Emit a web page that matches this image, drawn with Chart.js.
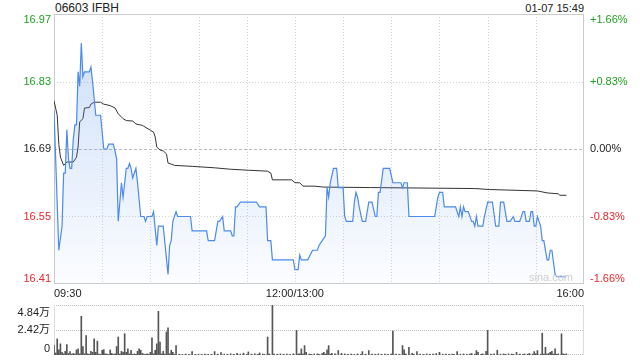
<!DOCTYPE html>
<html>
<head>
<meta charset="utf-8">
<script src="https://cdn.jsdelivr.net/npm/chart.js@4/dist/chart.umd.min.js"></script>
<style>
  body { margin: 0; background: #fff; }
  #wrap { position: relative; width: 640px; height: 360px; font-family: Arial, "Liberation Sans", sans-serif; color: #222; }
  #title { position: absolute; left: 55px; top: 1px; font-size: 12px; }
  #stamp { position: absolute; right: 56px; top: 2px; font-size: 11px; }
  canvas { position: absolute; left: 0; }
</style>
</head>
<body>
<div id="wrap">
  <div id="title">06603 IFBH</div>
  <div id="stamp">01-07 15:49</div>
  <canvas id="priceChart" width="640" height="300" style="top:0"></canvas>
  <canvas id="volChart" width="640" height="60" style="top:300px"></canvas>
</div>
<script>
// minutes since 09:30 (lunch break removed, 150 = 12:00/13:00)
const priceMin = [0, 3, 5, 6, 7, 8, 9, 10, 11, 12, 13, 14, 15, 16, 17, 18, 19, 22, 23, 24, 26, 29, 31, 33, 34, 37, 39, 40,
  42, 43, 45, 46, 47, 48, 49, 51, 52, 54, 56, 57, 58, 61, 62, 64, 65, 68, 71, 72, 73, 74, 76, 77, 85, 86, 95, 96, 100,
  102, 103, 105, 106, 110, 111, 112, 113, 114, 116, 126, 128, 132, 133, 135, 136, 149, 150, 152, 153, 154, 158, 161,
  164, 165, 167, 169, 170, 171, 172, 173, 174, 176, 177, 180, 181, 182, 186, 187, 188, 189, 190, 192, 194, 196, 198,
  200, 201, 202, 203, 205, 209, 211, 216, 217, 218, 220, 221, 237, 238, 239, 240, 242, 243, 250, 252, 253, 254, 255,
  256, 258, 260, 261, 262, 263, 264, 267, 268, 270, 273, 275, 277, 278, 280, 282, 284, 286, 287, 290, 292, 293, 294,
  296, 297, 298, 299, 300, 301, 302, 303, 304, 305, 307, 308, 309, 310, 312, 313, 319];
const priceVal = [16.77, 16.48, 16.53, 16.64, 16.64, 16.73, 16.67, 16.65, 16.65, 16.71, 16.74, 16.74, 16.85, 16.82, 16.91,
  16.84, 16.85, 16.85, 16.86, 16.83, 16.76, 16.76, 16.69, 16.69, 16.70, 16.70, 16.67, 16.54,
  16.62, 16.59, 16.65, 16.65, 16.66, 16.65, 16.63, 16.65, 16.62, 16.55, 16.55, 16.54, 16.55, 16.55, 16.56, 16.49, 16.53,
  16.53, 16.43, 16.49, 16.50, 16.54, 16.56, 16.55, 16.55, 16.52, 16.52, 16.50, 16.50,
  16.54, 16.54, 16.55, 16.52, 16.52, 16.51, 16.51, 16.57, 16.57, 16.58, 16.58, 16.57, 16.57, 16.50, 16.50, 16.46, 16.46,
  16.44, 16.44, 16.47, 16.46, 16.46, 16.48,
  16.48, 16.49, 16.50, 16.51, 16.61, 16.59, 16.62, 16.635, 16.65, 16.65, 16.61, 16.61, 16.55, 16.54, 16.54, 16.58, 16.60,
  16.59, 16.57, 16.54, 16.54, 16.58, 16.58,
  16.55, 16.55, 16.60, 16.60, 16.65, 16.65, 16.62, 16.62, 16.61, 16.62, 16.62, 16.55, 16.55, 16.57, 16.59, 16.60, 16.60,
  16.57, 16.57, 16.55, 16.57, 16.55, 16.57,
  16.56, 16.56, 16.54, 16.54, 16.53, 16.55, 16.53, 16.53, 16.55, 16.58, 16.58, 16.53, 16.53, 16.58, 16.58, 16.54, 16.54,
  16.55, 16.54, 16.54, 16.56, 16.56, 16.54,
  16.54, 16.56, 16.56, 16.53, 16.53, 16.55, 16.54, 16.53, 16.50, 16.50, 16.46, 16.46, 16.48, 16.48, 16.43, 16.425, 16.425];

const avgMin = [0, 2, 3, 4, 6, 8, 12, 14, 15, 16, 18, 19, 22, 23, 25, 29, 31, 35, 38, 40, 43, 45, 49, 51, 55, 60, 62, 63,
  64, 66, 68, 70, 71, 75, 86, 100, 110, 121, 133, 135, 136, 148, 150, 153, 155, 162, 168, 197, 262, 271, 301, 307, 314,
  315, 319];
const avgVal = [16.79, 16.76, 16.70, 16.673, 16.656, 16.663, 16.663, 16.673, 16.694, 16.746, 16.753, 16.775, 16.776,
  16.783, 16.787, 16.787, 16.783, 16.78, 16.775, 16.763, 16.753, 16.749, 16.748, 16.742, 16.739, 16.729, 16.725, 16.715,
  16.694, 16.688, 16.686, 16.68, 16.661, 16.656, 16.654, 16.651, 16.648, 16.646, 16.644, 16.64, 16.626, 16.626, 16.62,
  16.62, 16.613, 16.613, 16.611, 16.61, 16.608, 16.606, 16.603, 16.599, 16.597, 16.594, 16.594];

const volMin = [0, 1, 2, 3, 4, 5, 6, 7, 8, 9, 10, 11, 12, 13, 14, 15, 16, 17, 18, 19, 20, 21, 22, 23, 24, 25, 26, 27, 28,
  29, 30, 31, 32, 33, 34, 35, 36, 37, 38, 39, 40, 41, 42, 43, 44, 45, 46, 47, 48, 49, 50, 51, 52, 53, 54, 55, 56, 57, 58,
  59, 60, 61, 62, 63, 64, 65, 66, 67, 68, 69, 70, 71, 72, 73, 74, 75, 76,
  78, 80, 82, 84, 86, 88, 90, 92, 94, 96, 98, 100, 102, 104, 106, 108, 110, 112, 114, 116, 118, 120, 121, 123, 125, 127,
  128, 130, 131, 133, 134, 136, 137, 139, 141, 143, 145, 147, 149,
  151, 152, 153, 154, 155, 156, 157, 159, 160, 162, 164, 165, 167, 168, 169, 170, 171, 172, 173, 175, 177, 179, 181, 183,
  185, 187, 189, 191, 192, 194, 196, 198, 200, 202, 204, 206, 208, 210, 211, 213, 215, 217, 218, 219, 221, 223, 224, 226,
  228, 230, 232, 234, 236, 238, 240, 242, 244, 246, 248, 249, 251, 253, 255, 257, 259, 260, 262, 263, 264, 266, 267, 269,
  270, 272, 274, 276, 278, 280, 281, 283, 285, 286, 288, 290, 292, 293, 295, 296, 298, 299, 300, 301, 303, 304, 305, 306,
  307, 308, 309, 310, 311, 312, 313, 314, 316, 317, 318, 319];
const volVal = [9100, 2000, 15600, 5000, 10800, 2700, 1200, 3500, 10100, 1500, 3200, 800, 1500, 900, 4900, 5900, 1000,
  37500, 8200, 1200, 18900, 1100, 700, 3600, 2600, 15700, 2600, 13400, 900,
  600, 4600, 5200, 1100, 800, 500, 4900, 1500, 700, 1100, 8200, 17400, 900, 3600, 2600, 20600, 2600, 5900, 1100, 4600,
  700, 1100, 600, 3600, 5900, 4600, 1500, 900, 500, 1100,
  700, 2600, 16700, 1100, 4600, 10800, 42300, 12400, 1100, 3600, 800, 22300, 26400, 1200, 4600, 2600, 700, 9100,
  800, 600, 900, 700, 3300, 600, 800, 500, 900, 700, 600, 3300, 800, 2300, 900, 600, 1200, 700, 1500, 900, 1800, 600,
  3000, 800, 1300, 700,
  2000, 900, 600, 17400, 1000, 48400, 900, 700, 1100, 600, 900, 700, 1100,
  23900, 900, 1200, 5900, 800, 9100, 2600, 900, 600, 1000, 1100, 700, 1500, 2600, 900, 4900, 9100, 800, 1500, 1100, 4300,
  1500, 1100, 700,
  900, 600, 1000, 700, 3300, 800, 4300, 900, 700, 1100, 600, 900, 700, 1000, 23200, 900, 700, 9100, 5000, 1000, 7500,
  1500, 700, 3300,
  900, 600, 1000, 700, 900, 1500, 2600, 800, 1000, 700, 900, 600, 3300, 800, 1000, 700, 900, 1500, 800, 4300, 2600, 700,
  1100, 3600,
  23800, 900, 1200, 4600, 800, 1000, 700, 1100, 900, 600, 2600, 900, 700, 1100, 800, 1500, 900, 3300, 1200, 4300, 800,
  21100, 1000, 7500,
  900, 1500, 2600, 3600, 900, 5900, 700, 1100, 20500, 1100, 600, 1100];

const priceTicks = [16.41, 16.55, 16.69, 16.83, 16.97];
const priceLabels = ['16.41', '16.55', '16.69', '16.83', '16.97'];
const pctLabels = ['-1.66%', '-0.83%', '0.00%', '+0.83%', '+1.66%'];
const tickColors = ['#e8262a', '#e8262a', '#222222', '#1f9f1f', '#1f9f1f'];
const timeTicks = [0, 150, 330];
const timeLabels = ['09:30', '12:00/13:00', '16:00'];
const volTicks = [0, 24200, 48400];
const volLabels = ['0', '2.42万', '4.84万'];

const FONT = 'Arial, "Liberation Sans", "Noto Sans CJK SC", sans-serif';

// keep the chart area fixed, whatever the label heights
function fixWidth(width) {
  return s => { s.width = width; s.paddingTop = 0; s.paddingBottom = 0; };
}

// middle labels come from the axis; the two end labels are drawn
// just inside the frame (below the top line, above the bottom line)
function drawEdgeLabels(ctx, scale, ticks, labels, colors, x, align) {
  ctx.textAlign = align;
  const last = ticks.length - 1;
  ctx.fillStyle = colors[last];
  ctx.fillText(labels[last], x, scale.getPixelForValue(ticks[last]) + 6);
  ctx.fillStyle = colors[0];
  ctx.fillText(labels[0], x, scale.getPixelForValue(ticks[0]) - 5);
}

const priceFrame = {
  id: 'priceFrame',
  beforeDatasetsDraw(chart) {
    const { ctx, chartArea: a, scales: { x, y } } = chart;
    ctx.save();
    ctx.lineWidth = 1;
    x.ticks.forEach(t => {
      if (t.value <= x.min || t.value >= x.max) return;
      const px = Math.round(x.getPixelForValue(t.value)) + 0.5;
      ctx.strokeStyle = '#d2d2d2';
      ctx.setLineDash([1, 2]);
      ctx.beginPath(); ctx.moveTo(px, a.top); ctx.lineTo(px, a.bottom); ctx.stroke();
    });
    priceTicks.forEach((v, i) => {
      if (i === 0 || i === priceTicks.length - 1) return;
      const py = Math.round(y.getPixelForValue(v)) + 0.5;
      const mid = i === 2;
      ctx.strokeStyle = mid ? '#bbbbbb' : '#d2d2d2';
      ctx.setLineDash(mid ? [3, 2] : [1, 2]);
      ctx.beginPath(); ctx.moveTo(a.left, py); ctx.lineTo(a.right, py); ctx.stroke();
    });
    ctx.setLineDash([]);
    ctx.strokeStyle = '#cccccc';
    ctx.strokeRect(a.left + 0.5, a.top + 0.5, a.width - 1, a.height - 1);
    ctx.restore();
  },
  afterDraw(chart) {
    const { ctx, chartArea: a, scales: { x, y } } = chart;
    ctx.save();
    ctx.font = '11px ' + FONT;
    ctx.textBaseline = 'middle';
    drawEdgeLabels(ctx, y, priceTicks, priceLabels, tickColors, a.left - 3, 'right');
    drawEdgeLabels(ctx, y, priceTicks, pctLabels, tickColors, a.right + 6, 'left');
    ctx.fillStyle = '#cfcfcf';
    ctx.textAlign = 'right';
    ctx.fillText('sina.com', a.right - 11, a.bottom - 6);
    ctx.fillStyle = '#222';
    timeTicks.forEach((m, i) => {
      ctx.textAlign = i === 0 ? 'left' : (i === timeTicks.length - 1 ? 'right' : 'center');
      ctx.fillText(timeLabels[i], x.getPixelForValue(m), a.bottom + 10);
    });
    ctx.restore();
  }
};

const volFrame = {
  id: 'volFrame',
  beforeDatasetsDraw(chart) {
    const { ctx, chartArea: a, scales: { y } } = chart;
    ctx.save();
    ctx.lineWidth = 1;
    ctx.strokeStyle = '#bdbdbd';
    ctx.setLineDash([1, 1]);
    volTicks.forEach(v => {
      let py = Math.round(y.getPixelForValue(v)) + 0.5;
      if (py > a.bottom) py = a.bottom - 0.5;
      ctx.beginPath(); ctx.moveTo(a.left, py); ctx.lineTo(a.right, py); ctx.stroke();
    });
    ctx.setLineDash([]);
    ctx.strokeStyle = '#dddddd';
    [a.left + 0.5, a.right - 0.5].forEach(px => {
      ctx.beginPath(); ctx.moveTo(px, a.top); ctx.lineTo(px, a.bottom); ctx.stroke();
    });
    ctx.restore();
  },
  afterDraw(chart) {
    const { ctx, chartArea: a, scales: { y } } = chart;
    ctx.save();
    ctx.font = '11px ' + FONT;
    ctx.textBaseline = 'middle';
    ctx.textAlign = 'right';
    ctx.fillStyle = '#222';
    ctx.fillText(volLabels[2], a.left - 4, y.getPixelForValue(volTicks[2]) + 8);
    ctx.fillText(volLabels[0], a.left - 4, y.getPixelForValue(volTicks[0]) - 6);
    ctx.restore();
  }
};

const priceAxis = (labels, width, pad) => ({
  min: priceTicks[0],
  max: priceTicks[priceTicks.length - 1],
  afterBuildTicks: s => { s.ticks = priceTicks.map(v => ({ value: v })); },
  afterFit: fixWidth(width),
  grid: { display: false, drawTicks: false },
  border: { display: false },
  ticks: {
    autoSkip: false,
    padding: pad,
    font: { size: 11, family: FONT },
    color: c => tickColors[c.index],
    callback: (v, i) => (i === 0 || i === labels.length - 1) ? '' : labels[i]
  }
});

new Chart(document.getElementById('priceChart'), {
  type: 'line',
  data: {
    datasets: [
      {
        data: priceMin.map((m, i) => ({ x: m, y: priceVal[i] })),
        borderColor: '#4b8aee',
        borderWidth: 1.2,
        pointRadius: 0,
        tension: 0,
        fill: 'start',
        backgroundColor: c => {
          const a = c.chart.chartArea;
          if (!a) return 'rgba(80,140,235,0.15)';
          const g = c.chart.ctx.createLinearGradient(0, a.top, 0, a.bottom);
          g.addColorStop(0, 'rgba(80,140,235,0.30)');
          g.addColorStop(1, 'rgba(80,140,235,0.02)');
          return g;
        }
      },
      {
        data: avgMin.map((m, i) => ({ x: m, y: avgVal[i] })),
        borderColor: '#333333',
        borderWidth: 1,
        pointRadius: 0,
        tension: 0,
        fill: false
      }
    ]
  },
  options: {
    responsive: false,
    animation: false,
    events: [],
    layout: { padding: { top: 14, bottom: 16, left: 0, right: 0 } },
    plugins: { legend: { display: false }, tooltip: { enabled: false } },
    scales: {
      x: { type: 'linear', min: 0, max: 330, display: false, ticks: { stepSize: 30 } },
      y: Object.assign({ position: 'left' }, priceAxis(priceLabels, 54, 3)),
      y2: Object.assign({ position: 'right' }, priceAxis(pctLabels, 56, 6))
    }
  },
  plugins: [priceFrame]
});

new Chart(document.getElementById('volChart'), {
  type: 'bar',
  data: {
    datasets: [{
      data: volMin.map((m, i) => ({ x: m, y: volVal[i] })),
      backgroundColor: '#555555',
      barThickness: 1
    }]
  },
  options: {
    responsive: false,
    animation: false,
    events: [],
    layout: { padding: { top: 5, bottom: 5, left: 0, right: 56 } },
    plugins: { legend: { display: false }, tooltip: { enabled: false } },
    scales: {
      x: { type: 'linear', min: 0, max: 330, offset: false, display: false, grid: { offset: false } },
      y: {
        min: 0,
        max: volTicks[volTicks.length - 1],
        afterBuildTicks: s => { s.ticks = volTicks.map(v => ({ value: v })); },
        afterFit: fixWidth(54),
        grid: { display: false, drawTicks: false },
        border: { display: false },
        ticks: {
          autoSkip: false,
          padding: 4,
          font: { size: 11, family: FONT },
          color: '#222',
          callback: (v, i) => (i === 0 || i === volLabels.length - 1) ? '' : volLabels[i]
        }
      }
    }
  },
  plugins: [volFrame]
});
</script>
</body>
</html>
